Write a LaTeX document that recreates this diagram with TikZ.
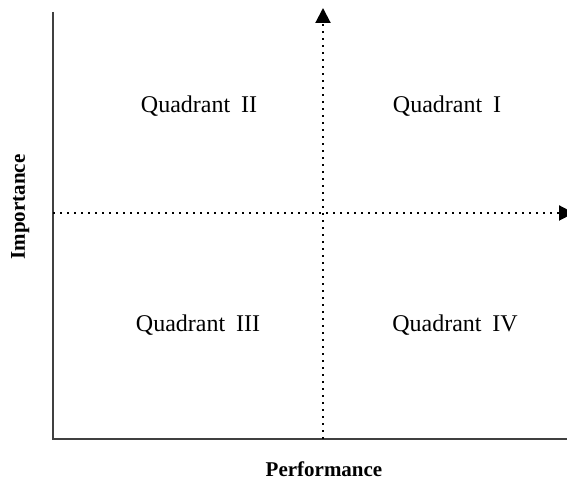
\documentclass[tikz,border=0pt]{standalone}
\usepackage{fontspec}
\setmainfont{Liberation Serif}
\usetikzlibrary{arrows.meta}

\begin{document}
\begin{tikzpicture}[x=0.5pt, y=0.5pt, >={Triangle[length=7.5pt,width=7.5pt]},
		axis/.style={line width=1pt, draw=black!75},
		split/.style={line width=1pt, dash pattern=on 1pt off 2.5pt},
		quad/.style={anchor=base, font=\fontsize{12}{14}\selectfont},
		axlabel/.style={anchor=base, font=\fontsize{10.5}{12}\selectfont\bfseries}]
		\useasboundingbox (0,0) rectangle (567,481);
		\clip (0,0) rectangle (567,481);
		% axes
		\coordinate (top) at (53,469);
		\coordinate (origin) at (53,42);
		\coordinate (right) at (567,42);
		\draw[axis] (top) -- (origin) -- (right);
		% dotted splitting lines
		\coordinate (vbot) at (323,42);
		\coordinate (vtop) at (323,473);
		\coordinate (hleft) at (53,268);
		\coordinate (hright) at (574,268);
		\draw[split,->] (vbot) -- (vtop);
		\draw[split,->] (hleft) -- (hright);
		% quadrant labels
		\node[quad] (q2) at (199,368) {Quadrant\hspace{0.45em}II};
		\node[quad] (q1) at (447,368) {Quadrant\hspace{0.45em}I};
		\node[quad] (q3) at (198,149) {Quadrant\hspace{0.45em}III};
		\node[quad] (q4) at (455,149) {Quadrant\hspace{0.45em}IV};
		% axis titles
		\node[axlabel] (perf) at (324,4) {Performance};
		\node[axlabel, rotate=90] (imp) at (25,274) {Importance};
	\end{tikzpicture}
\end{document}
